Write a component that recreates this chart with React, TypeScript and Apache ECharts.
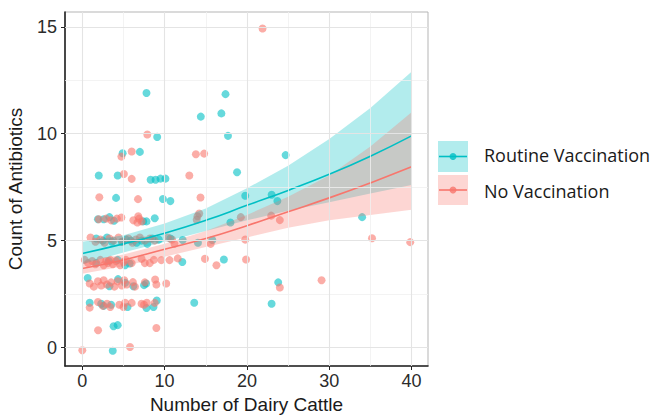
import React, { useEffect, useRef } from "react";
import * as echarts from "echarts";

const TEAL = "#00BFC4";
const SALMON = "#F8766D";

const xMajorTicks = [0, 10, 20, 30, 40];
const xMinorTicks = [5, 15, 25, 35];
const yMajorTicks = [0, 5, 10, 15];
const yMinorTicks = [2.5, 7.5, 12.5];

const seriesNames = ["Routine Vaccination", "No Vaccination"];

// fitted curves (read at these x values)
const fitX = [0, 5, 10, 15, 20, 25, 30, 35, 40];
const routineFit = [4.4, 4.85, 5.35, 5.95, 6.65, 7.35, 8.1, 8.95, 9.9];
const routineLower = [3.9, 4.45, 4.95, 5.45, 5.95, 6.4, 6.8, 7.2, 7.6];
const routineUpper = [4.95, 5.25, 5.8, 6.5, 7.45, 8.5, 9.75, 11.2, 12.9];
const noFit = [3.7, 4.1, 4.6, 5.1, 5.7, 6.35, 7.0, 7.7, 8.45];
const noLower = [3.45, 3.8, 4.25, 4.7, 5.15, 5.6, 5.95, 6.2, 6.45];
const noUpper = [4.0, 4.35, 4.85, 5.45, 6.2, 7.05, 8.05, 9.4, 11.0];

// observed points [cattle, antibiotics]
const routinePoints = [
  [7.8, 11.9], [17.4, 11.85], [16.9, 10.95], [14.4, 10.8], [17.7, 9.9], [9.1, 9.85],
  [24.7, 9.0], [4.9, 9.09], [7.0, 9.15], [18.8, 8.2], [2.0, 8.05], [4.3, 8.05],
  [8.3, 7.85], [8.9, 7.85], [9.5, 7.9], [10.1, 7.9], [4.1, 7.0], [9.8, 6.95], [10.7, 6.85],
  [19.8, 7.1], [23.0, 7.15], [23.7, 6.85], [34.0, 6.1], [18.0, 5.85],
  [1.9, 6.0], [2.6, 6.0], [3.3, 6.1], [3.85, 5.93], [7.4, 5.9], [7.8, 5.9], [8.8, 6.05],
  [1.7, 5.1], [2.5, 5.0], [3.0, 5.15], [3.6, 4.95], [4.8, 4.95], [5.3, 5.05], [5.9, 5.0],
  [6.6, 4.9], [7.2, 5.0], [7.9, 4.85], [8.5, 5.1], [9.3, 5.05], [10.7, 5.1], [12.2, 5.03],
  [14.05, 4.9], [15.8, 5.03],
  [1.7, 3.95], [3.2, 4.05], [4.3, 4.1], [5.2, 3.85], [5.75, 3.93], [12.15, 4.0], [17.2, 4.12],
  [0.66, 3.25], [3.3, 2.87], [4.35, 3.2], [5.2, 3.03], [6.2, 2.87], [7.5, 2.92], [7.75, 3.0],
  [23.8, 3.05],
  [0.9, 2.1], [2.3, 2.05], [2.6, 1.95], [3.5, 2.0], [5.5, 1.9], [7.8, 1.85], [8.65, 1.9],
  [9.05, 2.2], [13.6, 2.1], [23.0, 2.05],
  [3.8, 1.0], [4.3, 1.05], [3.7, -0.15],
];

const noVaccPoints = [
  [21.9, 14.92], [7.9, 9.96], [6.0, 9.17], [4.75, 8.93], [5.05, 8.12], [6.0, 7.89],
  [13.8, 9.04], [14.8, 9.07], [13.0, 8.05], [2.07, 7.03], [6.77, 6.94], [14.36, 7.02],
  [19.26, 6.1], [22.95, 6.17], [24.0, 5.96], [14.0, 6.14], [14.2, 6.27], [13.9, 5.98],
  [19.8, 5.05], [35.2, 5.11], [39.84, 4.93], [14.9, 4.15], [16.3, 3.85], [19.9, 4.12],
  [15.6, 4.85], [29.07, 3.15], [24.0, 2.81], [1.92, 0.81], [9.0, 0.92], [0.0, -0.12], [5.8, 0.03],
  [2.0, 6.0], [2.9, 6.03], [3.5, 5.95], [4.2, 6.03], [4.75, 6.08], [6.2, 5.95], [6.7, 5.85],
  [6.8, 6.14], [6.9, 6.03], [7.2, 5.9],
  [1.0, 5.15], [1.6, 4.95], [2.2, 5.05], [2.7, 4.9], [3.3, 5.1], [3.8, 5.0], [4.4, 5.15],
  [4.9, 4.95], [5.6, 5.1], [6.1, 4.9], [6.5, 5.05], [7.0, 5.15], [7.6, 5.0], [8.2, 5.1],
  [8.8, 5.0], [10.4, 5.15], [10.9, 5.05], [11.2, 4.85],
  [0.3, 4.1], [0.7, 3.95], [1.2, 4.05], [1.6, 3.9], [2.2, 4.1], [2.6, 3.85], [2.9, 4.05],
  [3.1, 3.95], [3.4, 4.1], [3.7, 3.9], [4.1, 4.05], [4.6, 3.85], [5.0, 4.0], [5.3, 4.1],
  [6.0, 3.95], [7.2, 4.15], [7.6, 3.95], [8.2, 3.95], [8.7, 4.1], [9.6, 4.09], [10.6, 4.09],
  [11.6, 4.17],
  [0.9, 3.0], [1.4, 2.85], [1.9, 3.1], [2.3, 2.9], [2.6, 3.15], [3.0, 2.95], [3.5, 3.05],
  [3.9, 2.85], [4.3, 3.1], [4.8, 2.9], [5.1, 3.15], [5.4, 2.95], [6.15, 3.06], [6.4, 2.85],
  [7.6, 3.05], [8.85, 3.18], [9.0, 2.95], [10.2, 3.0],
  [0.9, 1.87], [1.9, 2.13], [2.5, 1.95], [3.0, 2.05], [3.4, 1.9], [4.5, 2.0], [5.0, 1.9],
  [5.2, 2.1], [6.0, 2.09], [7.2, 2.05], [7.5, 2.0], [7.84, 2.1], [8.8, 2.09],
];

export default function App() {
  const ref = useRef<HTMLDivElement>(null);

  useEffect(() => {
    document.body.style.margin = "0";
    const chart = echarts.init(ref.current!, null, { renderer: "svg" });

    const ribbon = (upper: number[], lower: number[], fill: string) => ({
      type: "custom",
      silent: true,
      data: [[fitX[0], upper[0]]],
      renderItem: (_p: any, api: any) => {
        const pts: number[][] = [];
        for (let i = 0; i < fitX.length; i++) pts.push(api.coord([fitX[i], upper[i]]));
        for (let i = fitX.length - 1; i >= 0; i--) pts.push(api.coord([fitX[i], lower[i]]));
        return { type: "polygon", shape: { points: pts }, style: { fill } };
      },
      z: 3,
    });

    const fitLine = (vals: number[], color: string) => ({
      type: "line",
      data: fitX.map((x, i) => [x, vals[i]]),
      smooth: true,
      symbol: "none",
      silent: true,
      lineStyle: { color, width: 1.6 },
      z: 4,
    });

    const gridMarks = [
      ...xMinorTicks.map((v) => ({ xAxis: v, lineStyle: { color: "#f0f0f0", width: 0.8 } })),
      ...yMinorTicks.map((v) => ({ yAxis: v, lineStyle: { color: "#f0f0f0", width: 0.8 } })),
      ...xMajorTicks.map((v) => ({ xAxis: v, lineStyle: { color: "#e4e4e4", width: 1.1 } })),
      ...yMajorTicks.map((v) => ({ yAxis: v, lineStyle: { color: "#e4e4e4", width: 1.1 } })),
    ];

    const axisFont = { fontFamily: "Liberation Sans, Arial, sans-serif" };

    chart.setOption({
      animation: false,
      grid: {
        left: 65,
        right: 226,
        top: 12,
        bottom: 50,
        show: true,
        borderColor: "#b5b5b5",
        borderWidth: 1,
        backgroundColor: "transparent",
        containLabel: false,
        outerBoundsMode: "none",
      },
      xAxis: {
        type: "value",
        min: -2.1,
        max: 42,
        name: "Number of Dairy Cattle",
        nameLocation: "middle",
        nameGap: 29,
        nameTextStyle: { ...axisFont, fontSize: 19, color: "#1a1a1a" },
        axisLine: { show: true, onZero: false, lineStyle: { color: "#222", width: 1.6 } },
        axisTick: { show: true, length: 4, customValues: xMajorTicks, lineStyle: { color: "#222" } },
        axisLabel: { customValues: xMajorTicks, ...axisFont, fontSize: 18, color: "#2b2b2b", margin: 6 },
        splitLine: { show: false },
      },
      yAxis: {
        type: "value",
        min: -0.86,
        max: 15.69,
        name: "Count of Antibiotics",
        nameLocation: "middle",
        nameGap: 40,
        nameRotate: 90,
        nameTextStyle: { ...axisFont, fontSize: 19, color: "#1a1a1a" },
        axisLine: { show: true, onZero: false, lineStyle: { color: "#222", width: 1.6 } },
        axisTick: { show: true, length: 4, customValues: yMajorTicks, lineStyle: { color: "#222" } },
        axisLabel: { customValues: yMajorTicks, ...axisFont, fontSize: 18, color: "#2b2b2b", margin: 8 },
        splitLine: { show: false },
      },
      series: [
        {
          type: "scatter",
          data: [],
          z: 1,
          silent: true,
          markLine: { silent: true, symbol: "none", label: { show: false }, lineStyle: { type: "solid" }, data: gridMarks, animation: false },
        },
        {
          name: seriesNames[0],
          type: "scatter",
          data: routinePoints,
          symbolSize: 8,
          itemStyle: { color: TEAL, opacity: 0.6 },
          z: 2,
        },
        {
          name: seriesNames[1],
          type: "scatter",
          data: noVaccPoints,
          symbolSize: 8,
          itemStyle: { color: SALMON, opacity: 0.6 },
          z: 2,
        },
        ribbon(routineUpper, routineLower, "rgba(0,191,196,0.3)"),
        ribbon(noUpper, noLower, "rgba(248,118,109,0.3)"),
        fitLine(routineFit, TEAL),
        fitLine(noFit, SALMON),
      ],
      graphic: [
        { type: "rect", shape: { x: 438, y: 141, width: 30, height: 31 }, style: { fill: "rgba(0,191,196,0.3)" } },
        { type: "line", shape: { x1: 439, y1: 156.5, x2: 467, y2: 156.5 }, style: { stroke: TEAL, lineWidth: 1.6 } },
        { type: "circle", shape: { cx: 453, cy: 156.5, r: 3.5 }, style: { fill: TEAL, opacity: 0.8 } },
        { type: "rect", shape: { x: 438, y: 175, width: 30, height: 30 }, style: { fill: "rgba(248,118,109,0.3)" } },
        { type: "line", shape: { x1: 439, y1: 190, x2: 467, y2: 190 }, style: { stroke: SALMON, lineWidth: 1.6 } },
        { type: "circle", shape: { cx: 453, cy: 190, r: 3.5 }, style: { fill: SALMON, opacity: 0.8 } },
        { type: "text", x: 484, y: 155, style: { text: seriesNames[0], font: "18px 'Open Sans', sans-serif", fill: "#1a1a1a", textVerticalAlign: "middle" } },
        { type: "text", x: 484, y: 191, style: { text: seriesNames[1], font: "18px 'Open Sans', sans-serif", fill: "#1a1a1a", textVerticalAlign: "middle" } },
      ],
    });

    return () => chart.dispose();
  }, []);

  return <div ref={ref} style={{ width: 654, height: 416 }} />;
}
